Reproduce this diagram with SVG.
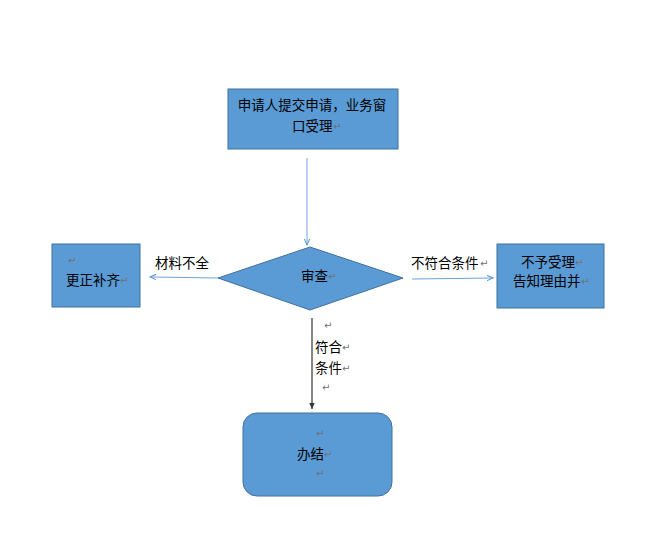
<svg xmlns="http://www.w3.org/2000/svg" width="660" height="539" viewBox="0 0 660 539">
<style>
.box{fill:#5b9bd5;stroke:#41719c;stroke-width:1}
.t{font-family:"Liberation Sans","Noto Sans CJK SC",sans-serif;font-size:13.5px;fill:#000}
.m{font-family:"DejaVu Sans","Noto Sans CJK SC",sans-serif;font-size:10px;fill:#707070}
.ln{fill:none;stroke-width:1.2}
</style>
<defs>
<marker id="ab" viewBox="0 0 10 10" refX="9" refY="5" markerWidth="7" markerHeight="7" orient="auto" markerUnits="userSpaceOnUse">
<path d="M0,1 L9,5 L0,9" fill="none" stroke="#5b9bd5" stroke-width="1.5"/>
</marker>
<marker id="ak" viewBox="0 0 10 10" refX="9" refY="5" markerWidth="7" markerHeight="7" orient="auto" markerUnits="userSpaceOnUse">
<path d="M0,1 L9,5 L0,9 Z" fill="#333"/>
</marker>
</defs>
<rect width="660" height="539" fill="#fff"/>
<g id="connectors">
<line class="ln" x1="307" y1="158" x2="307" y2="245" stroke="#8db4e2" marker-end="url(#ab)"/>
<line class="ln" x1="218" y1="278" x2="150" y2="277" stroke="#6fa3d8" marker-end="url(#ab)"/>
<line class="ln" x1="412" y1="279" x2="493" y2="278" stroke="#6fa3d8" marker-end="url(#ab)"/>
<line class="ln" x1="312" y1="318" x2="312" y2="409" stroke="#333" marker-end="url(#ak)"/>
<text class="t" x="155" y="268">材料不全</text>
<text class="t" x="411" y="268">不符合条件</text><text class="m" x="480" y="267">↵</text>
<text class="m" x="324" y="329">↵</text>
<text class="t" x="315" y="352">符合</text><text class="m" x="342" y="351">↵</text>
<text class="t" x="315" y="373">条件</text><text class="m" x="342" y="372">↵</text>
<text class="m" x="322" y="391">↵</text>
</g>
<g id="apply">
<rect class="box" x="228" y="89" width="170" height="60"/>
<text class="t" x="312" y="110" text-anchor="middle">申请人提交申请，业务窗</text>
<text class="t" x="292" y="131">口受理</text><text class="m" x="333" y="130">↵</text>
</g>
<g id="review">
<polygon class="box" points="310,247 403,278 310,310 218,278"/>
<text class="t" x="301" y="281">审查</text><text class="m" x="328" y="280">↵</text>
</g>
<g id="fix">
<rect class="box" x="52" y="244" width="88" height="63"/>
<text class="m" x="68" y="264">↵</text>
<text class="t" x="66" y="285">更正补齐</text><text class="m" x="120" y="284">↵</text>
</g>
<g id="reject">
<rect class="box" x="497" y="244" width="107" height="64"/>
<text class="t" x="521" y="267">不予受理</text><text class="m" x="575" y="266">↵</text>
<text class="t" x="513" y="286">告知理由并</text><text class="m" x="581" y="285">↵</text>
</g>
<g id="done">
<rect class="box" x="243" y="413" width="149" height="83" rx="14" ry="14"/>
<text class="m" x="316" y="437">↵</text>
<text class="t" x="297" y="459">办结</text><text class="m" x="324" y="458">↵</text>
<text class="m" x="316" y="477">↵</text>
</g>
</svg>
